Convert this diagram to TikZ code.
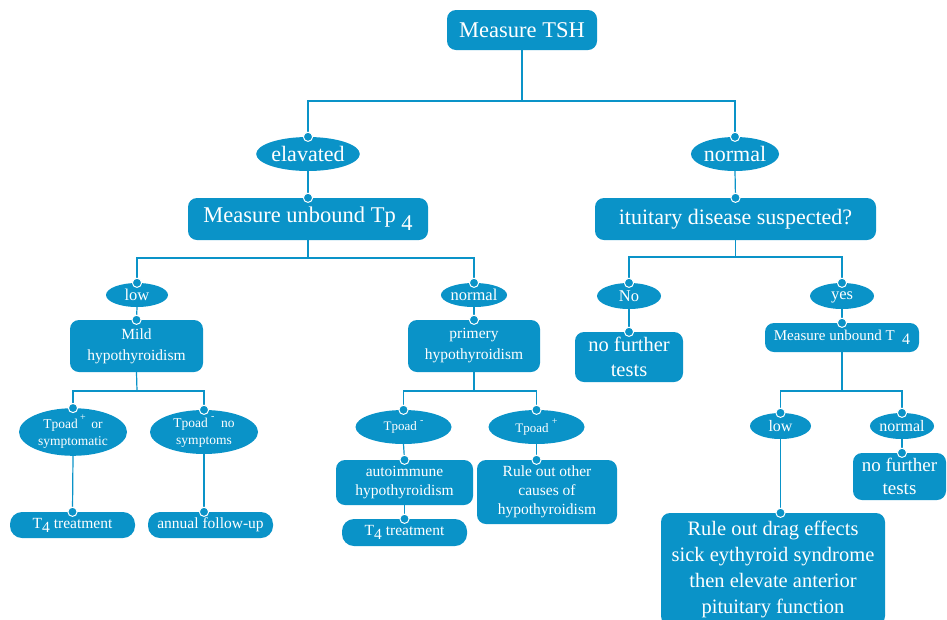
\documentclass[tikz,border=0pt]{standalone}
\usepackage{fontspec}
\setmainfont{Liberation Serif}
\usetikzlibrary{shapes.geometric}
\definecolor{tblue}{HTML}{0A93C8}
\newcommand\fsz[2]{\fontsize{#1}{#2}\selectfont}
\begin{document}
\begin{tikzpicture}[x=1pt,y=-1pt,
  box/.style={rectangle, rounded corners=9pt, fill=tblue, text=white, inner sep=0pt, align=center},
  pill/.style={box, rounded corners=12pt},
  oval/.style={ellipse, fill=tblue, text=white, inner sep=0pt, align=center},
  conn/.style={draw=tblue, line width=1.2pt},
  jdot/.style={fill=tblue, draw=white, line width=1pt}]
\useasboundingbox (0,0) rectangle (947,619);
% level 0
\node[box, minimum width=150pt, minimum height=40pt, font=\fsz{22.5}{27}] (tsh) at (522,30) {Measure TSH};
% level 1
\node[oval, minimum width=90pt, minimum height=34pt, font=\fsz{22}{26}] (elev) at (308,154) {elavated};
\node[oval, minimum width=84pt, minimum height=34pt, font=\fsz{22}{26}] (norm1) at (735,154) {normal};
\node[box, minimum width=240pt, minimum height=42pt, font=\fsz{22.5}{27}] (tp4) at (308,219) {Measure unbound Tp \raisebox{-0.35em}{4}};
\node[box, minimum width=281pt, minimum height=42pt, font=\fsz{22}{27}] (pit) at (735.5,219) {ituitary disease suspected?};
% level 2 left
\node[oval, minimum width=62pt, minimum height=24pt, font=\fsz{16.5}{20}] (low1) at (137,295) {low};
\node[oval, minimum width=64pt, minimum height=24pt, font=\fsz{16.5}{20}] (norm2) at (474,295) {normal};
\node[box, minimum width=133pt, minimum height=52pt, font=\fsz{15.5}{21}] (mild) at (136.5,346) {Mild\\hypothyroidism};
\node[box, minimum width=132pt, minimum height=52pt, font=\fsz{15.5}{21}] (prim) at (474,346) {primery\\hypothyroidism};
\node[oval, minimum width=108pt, minimum height=44pt, font=\fsz{13.5}{17}] (tpa) at (73,432) {Tpoad\,\raisebox{0.6em}{\fsz{10}{10}+}\,\ or\\symptomatic};
\node[oval, minimum width=108pt, minimum height=44pt, font=\fsz{13.5}{17}] (tpb) at (204,432) {Tpoad\ \raisebox{0.6em}{\fsz{10}{10}-}\ \ no\\symptoms};
\node[pill, minimum width=125pt, minimum height=26pt, font=\fsz{15.5}{19}] (t4a) at (72.5,525) {T\raisebox{-0.25em}{4} treatment};
\node[pill, minimum width=125pt, minimum height=26pt, font=\fsz{15.5}{19}] (annual) at (210.5,525) {annual follow-up};
\node[oval, minimum width=96pt, minimum height=34pt, font=\fsz{13}{16}] (tpc) at (403.5,427) {Tpoad \raisebox{0.55em}{\fsz{10}{10}-}};
\node[oval, minimum width=96pt, minimum height=34pt, font=\fsz{13}{16}] (tpd) at (536.5,427) {Tpoad \raisebox{0.55em}{\fsz{10}{10}+}};
\node[box, minimum width=137pt, minimum height=45pt, font=\fsz{15.5}{19}] (auto) at (404.5,482.5) {autoimmune\\hypothyroidism};
\node[box, minimum width=140pt, minimum height=64pt, font=\fsz{15.5}{19}] (rule1) at (547,492) {Rule out other\\causes of\\hypothyroidism};
\node[pill, minimum width=125pt, minimum height=27pt, font=\fsz{15.5}{19}] (t4b) at (404.5,532.5) {T\raisebox{-0.25em}{4} treatment};
% level 2 right
\node[oval, minimum width=64pt, minimum height=26pt, font=\fsz{16.5}{20}] (no) at (629,296) {No};
\node[oval, minimum width=64pt, minimum height=26pt, font=\fsz{16.5}{20}] (yes) at (842,296) {\vphantom{l}yes};
\node[box, minimum width=108pt, minimum height=50pt, font=\fsz{20.5}{25}] (nft1) at (629,357) {no further\\tests};
\node[box, minimum width=154pt, minimum height=29pt, font=\fsz{15}{18}] (mut4) at (842,337.5) {Measure unbound T \ \raisebox{-0.3em}{\fsz{16}{18}4}};
\node[oval, minimum width=61pt, minimum height=26pt, font=\fsz{16}{20}] (low2) at (780.5,426) {low};
\node[oval, minimum width=60pt, minimum height=26pt, font=\fsz{16}{20}] (norm3) at (902,426) {normal};
\node[box, minimum width=93pt, minimum height=47pt, font=\fsz{19}{23}] (nft2) at (899.5,476.5) {no further\\tests};
\node[box, minimum width=224pt, minimum height=112pt, font=\fsz{20.5}{26}] (rule2) at (773,569) {Rule out drag effects\\sick eythyroid syndrome\\then elevate anterior\\pituitary function};
% bus coordinates
\coordinate (b1) at (522,101);
\coordinate (b2) at (308,258);
\coordinate (b3) at (735.5,257);
\coordinate (b4) at (137,391);
\coordinate (b5) at (474,391);
\coordinate (b6) at (842,391);
% connectors
\draw[conn] (tsh.south) -- (b1);
\draw[conn] (elev.north) |- (b1) -| (norm1.north);
\draw[conn] (elev.south) -- (tp4.north);
\draw[conn] (norm1.south) -- (pit.north);
\draw[conn] (tp4.south) -- (b2);
\draw[conn] (low1.north) |- (b2) -| (norm2.north);
\draw[conn] (pit.south) -- (b3);
\draw[conn] (no.north) |- (b3) -| (yes.north);
\draw[conn] (low1.south) -- (mild.north);
\draw[conn] (norm2.south) -- (prim.north);
\draw[conn] (no.south) -- (nft1.north);
\draw[conn] (yes.south) -- (mut4.north);
\draw[conn] (mild.south) -- (b4);
\draw[conn] (tpa.north) |- (b4) -| (tpb.north);
\draw[conn] (prim.south) -- (b5);
\draw[conn] (tpc.north) |- (b5) -| (tpd.north);
\draw[conn] (mut4.south) -- (b6);
\draw[conn] (low2.north) |- (b6) -| (norm3.north);
\draw[conn] (tpa.south) -- (t4a.north);
\draw[conn] (tpb.south) -- (tpb.south |- annual.north);
\draw[conn] (tpc.south) -- (auto.north);
\draw[conn] (auto.south) -- (t4b.north);
\draw[conn] (tpd.south) -- (tpd.south |- rule1.north);
\draw[conn] (low2.south) -- (low2.south |- rule2.north);
\draw[conn] (norm3.south) -- (norm3.south |- nft2.north);
% junction dots
\foreach \p in {elev.north, norm1.north, tp4.north, pit.north, low1.north, norm2.north,
  no.north, yes.north, mild.north, prim.north, nft1.north, mut4.north, tpa.north, tpb.north,
  tpc.north, tpd.north, low2.north, norm3.north, t4a.north, auto.north, t4b.north,
  tpb.south |- annual.north, tpd.south |- rule1.north, low2.south |- rule2.north,
  norm3.south |- nft2.north}
  \filldraw[jdot] (\p) circle (4.6pt);
\end{tikzpicture}
\end{document}
